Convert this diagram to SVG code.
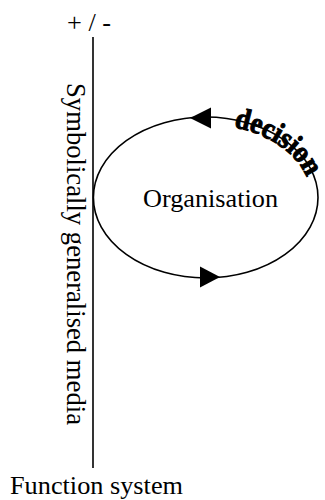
<svg xmlns="http://www.w3.org/2000/svg" width="325" height="500" viewBox="0 0 325 500">
  <style>
    text { font-family: 'Liberation Serif', 'Times New Roman', serif; fill: #000; }
    .ln { fill: none; stroke: #000; stroke-width: 1.6; }
    .ah { fill: #000; stroke: none; }
  </style>
  <defs>
    <path id="decPath" d="M100.7,197.5 A105,73 0 0 1 310.7,197.5"/>
  </defs>
  <rect width="325" height="500" fill="#fff"/>
  <g id="connectors">
    <line class="ln" x1="93" y1="37" x2="93" y2="468"/>
    <polygon class="ah" points="190,118 211,107.5 211,128.5"/>
    <polygon class="ah" points="220,277 200,266.5 200,287.5"/>
  </g>
  <g id="function-system-axis">
    <text x="67" y="31" font-size="26" textLength="44" lengthAdjust="spacingAndGlyphs">+ / -</text>
    <text transform="translate(67,83) rotate(90)" x="0" y="0" font-size="27" textLength="342" lengthAdjust="spacingAndGlyphs">Symbolically generalised media</text>
    <text x="10" y="494" font-size="26" textLength="173" lengthAdjust="spacingAndGlyphs">Function system</text>
  </g>
  <g id="organisation">
    <ellipse class="ln" cx="205.7" cy="197.5" rx="112.3" ry="80.5"/>
    <text x="143" y="207" font-size="26" textLength="135" lengthAdjust="spacingAndGlyphs">Organisation</text>
  </g>
  <g id="decision">
    <text font-size="30" font-weight="bold" stroke="#000" stroke-width="1.1"><textPath href="#decPath" startOffset="169" textLength="92" lengthAdjust="spacingAndGlyphs">decision</textPath></text>
  </g>
</svg>
